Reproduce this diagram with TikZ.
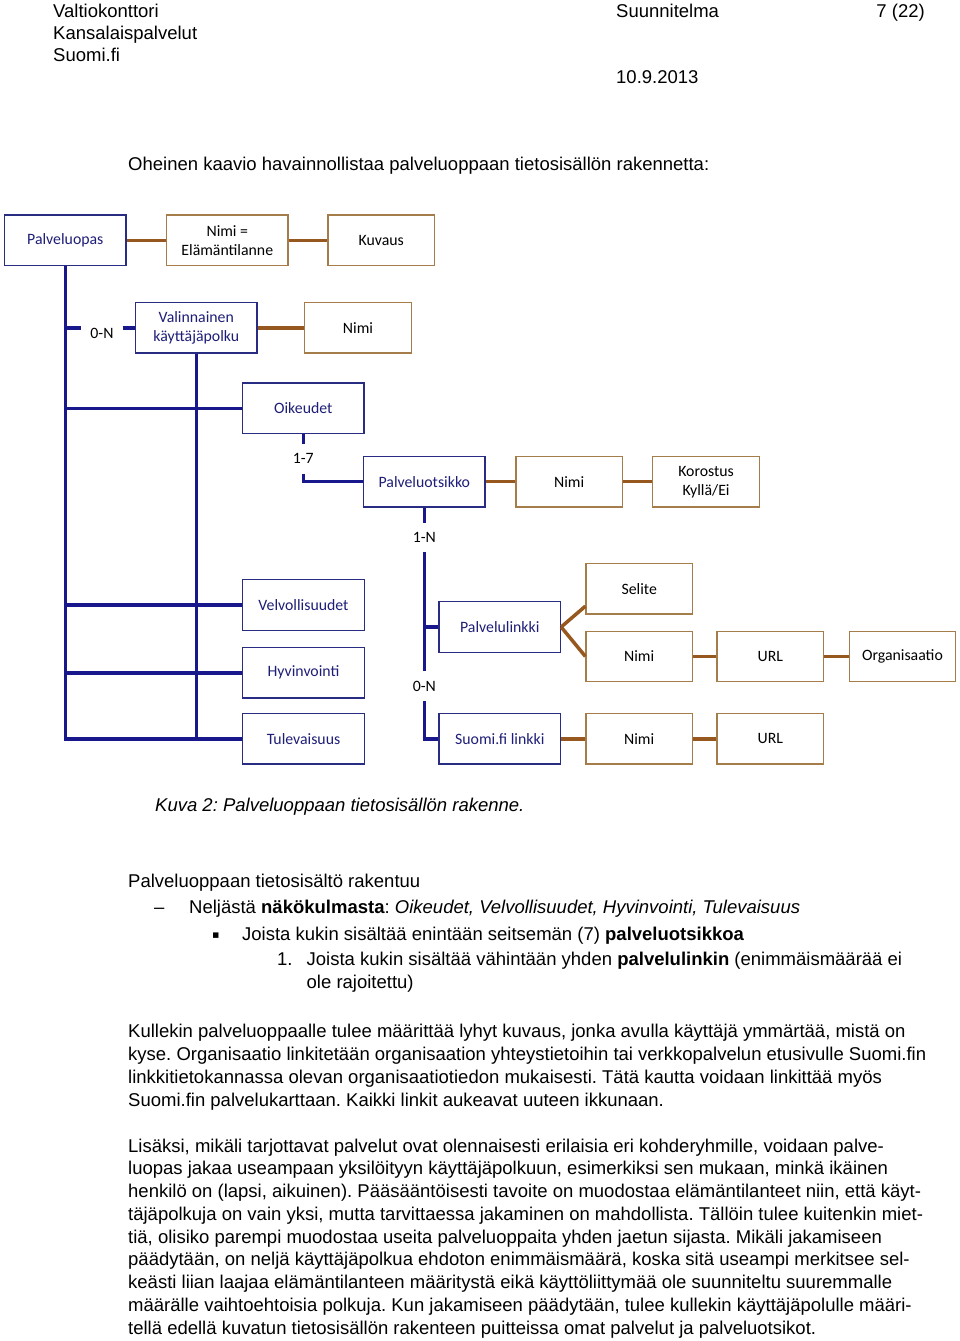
\documentclass[tikz,border=0pt]{standalone}
\usepackage{fontspec}
\setmainfont{Liberation Sans}
\newfontfamily\boxfont{Carlito}
\newfontfamily\symfont{DejaVu Sans}
\definecolor{linenavy}{RGB}{24,24,140}
\definecolor{boxblue}{RGB}{40,44,130}
\definecolor{navytext}{RGB}{30,30,120}
\definecolor{linebrown}{RGB}{150,88,30}
\definecolor{boxbrown}{RGB}{165,125,75}
\frenchspacing
\begin{document}
\begin{tikzpicture}[x=1pt,y=-1pt,
  bluebox/.style={draw=boxblue, line width=1.2pt, text=navytext, font=\boxfont\fontsize{15.8}{19}\selectfont, minimum width=121.5pt, minimum height=50.5pt, inner sep=0pt, align=center},
  brownbox/.style={draw=boxbrown, line width=1.2pt, text=black, font=\boxfont\fontsize{15.8}{19}\selectfont, minimum width=106.5pt, minimum height=50.5pt, inner sep=0pt, align=center},
  card/.style={font=\boxfont\fontsize{15.8}{19}\selectfont, text=black, inner sep=0pt},
  blueline/.style={draw=linenavy, line width=3.5pt},
  brownline/.style={draw=linebrown, line width=3.5pt},
  body/.style={anchor=base west, inner sep=0pt, font=\fontsize{18.5}{23}\selectfont}]
\useasboundingbox (0,0) rectangle (960,1341);
\fill[white] (0,0) rectangle (960,1341);

% header
\node[body] (h1) at (53,17.5) {Valtiokonttori};
\node[body] (h2) at (53,39.5) {Kansalaispalvelut};
\node[body] (h3) at (53,61.5) {Suomi.fi};
\node[body] (h4) at (616,17.5) {Suunnitelma};
\node[body, anchor=base east] (h5) at (925,17.5) {7 (22)};
\node[body] (h6) at (616,83.5) {10.9.2013};
\node[body] (intro) at (128,170.5) {Oheinen kaavio havainnollistaa palveluoppaan tietosisällön rakennetta:};

% boxes
\node[bluebox] (pal) at (65.3,240.3) {Palveluopas};
\node[brownbox, minimum width=121.3pt] (nimiE) at (227.3,240.3) {Nimi =\\Elämäntilanne};
\node[brownbox] (kuvaus) at (381.2,240.3) {Kuvaus};
\node[bluebox] (valin) at (196.3,327.8) {Valinnainen\\käyttäjäpolku};
\node[brownbox] (nimi1) at (358,327.8) {Nimi};
\node[bluebox] (oik) at (303.3,408.3) {Oikeudet};
\node[bluebox] (pots) at (424.3,481.7) {Palveluotsikko};
\node[brownbox] (nimi2) at (569.2,481.7) {Nimi};
\node[brownbox] (kor) at (706.1,481.7) {Korostus\\Kyllä/Ei};
\node[bluebox] (velv) at (303.5,605) {Velvollisuudet};
\node[bluebox] (hyv) at (303.5,672.8) {Hyvinvointi};
\node[bluebox] (tul) at (303.5,738.8) {Tulevaisuus};
\node[bluebox] (plink) at (499.8,627) {Palvelulinkki};
\node[brownbox] (selite) at (639.2,588.7) {Selite};
\node[brownbox] (nimi3) at (639.2,656.4) {Nimi};
\node[brownbox] (url1) at (770.3,656.4) {URL};
\node[brownbox] (org) at (902.5,656.4) {Organisaatio};
\node[bluebox] (slink) at (499.8,738.8) {Suomi.fi linkki};
\node[brownbox] (nimi4) at (639.2,738.8) {Nimi};
\node[brownbox] (url2) at (770.3,738.8) {URL};

% multiplicity labels
\node[card, minimum width=41pt] (lab0N) at (102,333) {0-N};
\node[card, minimum height=29pt] (lab17) at (303.3,458.8) {1-7};
\node[card, minimum height=29pt] (lab1N) at (424.3,537.2) {1-N};
\node[card, minimum height=29.6pt] (lab0Nb) at (424.3,686) {0-N};

% blue connectors
\draw[blueline] (pal.south) |- (tul.west);
\draw[blueline] (pal.south |- oik.west) -- (oik.west);
\draw[blueline] (pal.south |- velv.west) -- (velv.west);
\draw[blueline] (pal.south |- hyv.west) -- (hyv.west);
\draw[blueline] (valin.south) -- (valin.south |- tul.west);
\draw[blueline] (pal.south |- valin.west) -- (lab0N.west |- valin.west);
\draw[blueline] (lab0N.east |- valin.west) -- (valin.west);
\draw[blueline] (oik.south) -- (lab17.north);
\draw[blueline] (lab17.south) |- (pots.west);
\draw[blueline] (pots.south) -- (lab1N.north);
\draw[blueline] (lab1N.south) -- (lab0Nb.north);
\draw[blueline] (lab1N.south |- plink.west) -- (plink.west);
\draw[blueline] (lab0Nb.south) |- (slink.west);

% brown connectors
\draw[brownline] (pal.east) -- (nimiE.west);
\draw[brownline] (nimiE.east) -- (kuvaus.west);
\draw[brownline] (valin.east) -- (nimi1.west);
\draw[brownline] (pots.east) -- (nimi2.west);
\draw[brownline] (nimi2.east) -- (kor.west);
\draw[brownline] (plink.east) -- (selite.198);
\draw[brownline] (plink.east) -- (nimi3.west);
\draw[brownline] (nimi3.east) -- (url1.west);
\draw[brownline] (url1.east) -- (org.west);
\draw[brownline] (slink.east) -- (nimi4.west);
\draw[brownline] (nimi4.east) -- (url2.west);

% caption and text
\node[body] (cap) at (155,811) {\itshape Kuva 2: Palveluoppaan tietosisällön rakenne.};
\node[body] (l1) at (128,887) {Palveluoppaan tietosisältö rakentuu};
\node[body] (d1) at (154,913.3) {–};
\node[body] (l2) at (189,913.3) {Neljästä \textbf{näkökulmasta}: \textit{Oikeudet, Velvollisuudet, Hyvinvointi, Tulevaisuus}};
\node[body] (d2) at (212,938) {\symfont\fontsize{11}{11}\selectfont ▪};
\node[body] (l3) at (242,940) {Joista kukin sisältää enintään seitsemän (7) \textbf{palveluotsikkoa}};
\node[body] (d3) at (277,965.5) {1.};
\node[body] (l4) at (306.5,965.5) {Joista kukin sisältää vähintään yhden \textbf{palvelulinkin} (enimmäismäärää ei};
\node[body] (l5) at (306.5,988) {ole rajoitettu)};

\node[body] (p1a) at (128,1037) {Kullekin palveluoppaalle tulee määrittää lyhyt kuvaus, jonka avulla käyttäjä ymmärtää, mistä on};
\node[body] (p1b) at (128,1060) {kyse. Organisaatio linkitetään organisaation yhteystietoihin tai verkkopalvelun etusivulle Suomi.fin};
\node[body] (p1c) at (128,1083) {linkkitietokannassa olevan organisaatiotiedon mukaisesti. Tätä kautta voidaan linkittää myös};
\node[body] (p1d) at (128,1106) {Suomi.fin palvelukarttaan. Kaikki linkit aukeavat uuteen ikkunaan.};

\node[body] (p2a) at (128,1152) {Lisäksi, mikäli tarjottavat palvelut ovat olennaisesti erilaisia eri kohderyhmille, voidaan palve-};
\node[body] (p2b) at (128,1174.75) {luopas jakaa useampaan yksilöityyn käyttäjäpolkuun, esimerkiksi sen mukaan, minkä ikäinen};
\node[body] (p2c) at (128,1197.5) {henkilö on (lapsi, aikuinen). Pääsääntöisesti tavoite on muodostaa elämäntilanteet niin, että käyt-};
\node[body] (p2d) at (128,1220.25) {täjäpolkuja on vain yksi, mutta tarvittaessa jakaminen on mahdollista. Tällöin tulee kuitenkin miet-};
\node[body] (p2e) at (128,1243) {tiä, olisiko parempi muodostaa useita palveluoppaita yhden jaetun sijasta. Mikäli jakamiseen};
\node[body] (p2f) at (128,1265.75) {päädytään, on neljä käyttäjäpolkua ehdoton enimmäismäärä, koska sitä useampi merkitsee sel-};
\node[body] (p2g) at (128,1288.5) {keästi liian laajaa elämäntilanteen määritystä eikä käyttöliittymää ole suunniteltu suuremmalle};
\node[body] (p2h) at (128,1311.25) {määrälle vaihtoehtoisia polkuja. Kun jakamiseen päädytään, tulee kullekin käyttäjäpolulle määri-};
\node[body] (p2i) at (128,1334) {tellä edellä kuvatun tietosisällön rakenteen puitteissa omat palvelut ja palveluotsikot.};
\end{tikzpicture}
\end{document}
